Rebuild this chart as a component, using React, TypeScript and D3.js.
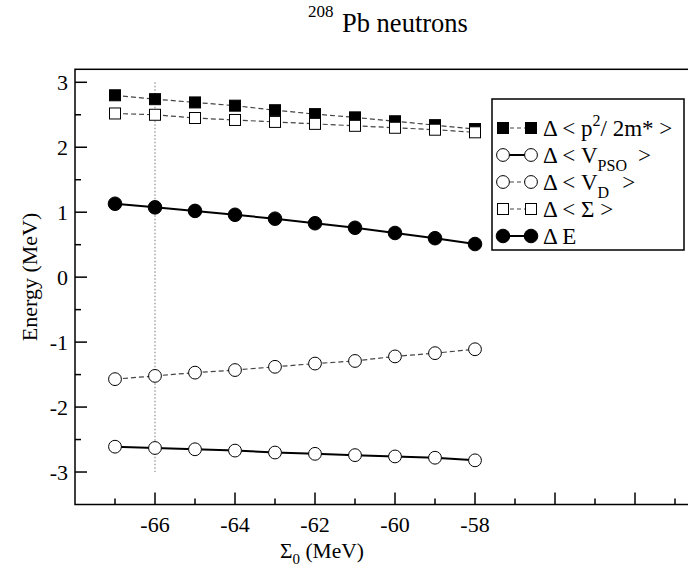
import React from "react";
import * as d3 from "d3";

const sigma0 = [-67, -66, -65, -64, -63, -62, -61, -60, -59, -58];
const kinetic = [2.8, 2.74, 2.69, 2.64, 2.57, 2.51, 2.46, 2.4, 2.34, 2.28];
const vpso = [-2.61, -2.63, -2.65, -2.67, -2.7, -2.72, -2.74, -2.76, -2.78, -2.82];
const vd = [-1.57, -1.52, -1.47, -1.43, -1.38, -1.33, -1.29, -1.22, -1.17, -1.11];
const sigmaAvg = [2.52, 2.5, 2.45, 2.42, 2.39, 2.36, 2.33, 2.3, 2.27, 2.23];
const deltaE = [1.13, 1.075, 1.02, 0.96, 0.9, 0.83, 0.76, 0.68, 0.6, 0.51];

const xTickLabels = [-66, -64, -62, -60, -58];
const yTickLabels = [-3, -2, -1, 0, 1, 2, 3];

type Series = { key: string; values: number[]; marker: "square" | "circle"; filled: boolean; dashed: boolean };

const seriesList: Series[] = [
  { key: "kin", values: kinetic, marker: "square", filled: true, dashed: true },
  { key: "vpso", values: vpso, marker: "circle", filled: false, dashed: false },
  { key: "vd", values: vd, marker: "circle", filled: false, dashed: true },
  { key: "sig", values: sigmaAvg, marker: "square", filled: false, dashed: true },
  { key: "e", values: deltaE, marker: "circle", filled: true, dashed: false },
];

const FONT = '"Liberation Serif", "Nimbus Roman", "Times New Roman", "DejaVu Serif", serif';

function Marker({ x, y, s }: { x: number; y: number; s: Series }) {
  if (s.marker === "square") {
    const h = 5.5;
    return (
      <rect x={x - h} y={y - h} width={2 * h} height={2 * h}
        fill={s.filled ? "#000" : "#fff"} stroke="#000" strokeWidth={1} />
    );
  }
  return <circle cx={x} cy={y} r={s.filled ? 6.8 : 6.4} fill={s.filled ? "#000" : "#fff"} stroke="#000" strokeWidth={1} />;
}

export default function App() {
  const W = 688, H = 571;
  const x = d3.scaleLinear().domain([-68, -52]).range([75, 715]);
  const y = d3.scaleLinear().domain([-3.5, 3.2]).range([504.5, 69.3]);

  const line = d3.line<[number, number]>().x((d) => x(d[0])).y((d) => y(d[1]));

  const xTicks = d3.range(-67, -52, 1);
  const yTicks = d3.range(-3.5, 3.01, 0.5);

  const LF = 23;
  const SF = 16;
  const legendRows = [
    { s: seriesList[0], label: (<><tspan>Δ &lt; p</tspan><tspan dy={-10} fontSize={SF}>2</tspan><tspan dy={10}>/ 2m* &gt;</tspan></>) },
    { s: seriesList[1], label: (<><tspan>Δ &lt; V</tspan><tspan dy={8} fontSize={SF}>PSO</tspan><tspan dy={-8} dx={11}>&gt;</tspan></>) },
    { s: seriesList[2], label: (<><tspan>Δ &lt; V</tspan><tspan dy={8} fontSize={SF}>D</tspan><tspan dy={-8} dx={13}>&gt;</tspan></>) },
    { s: seriesList[3], label: (<><tspan>Δ &lt; Σ &gt;</tspan></>) },
    { s: seriesList[4], label: (<><tspan>Δ E</tspan></>) },
  ];

  return (
    <svg width={W} height={H} style={{ position: "absolute", left: 0, top: 0, background: "#fff", fontFamily: FONT }}>
      <rect width={W} height={H} fill="#fff" />
      {/* title */}
      <text x={308} y={17} fontSize={17}>208</text>
      <text x={342} y={32} fontSize={26.5}>Pb neutrons</text>

      {/* frame */}
      <rect x={x(-68)} y={y(3.2)} width={x(-52) - x(-68)} height={y(-3.5) - y(3.2)} fill="none" stroke="#000" strokeWidth={1.5} />

      {/* x ticks */}
      {xTicks.map((t) => {
        const major = t % 2 === 0;
        return <line key={"xt" + t} x1={x(t)} x2={x(t)} y1={y(-3.5)} y2={y(-3.5) - (major ? 12 : 6)} stroke="#000" strokeWidth={1.5} />;
      })}
      {xTickLabels.map((t) => (
        <text key={"xl" + t} x={x(t)} y={532} fontSize={22} textAnchor="middle">{t}</text>
      ))}

      {/* y ticks */}
      {yTicks.map((t) => {
        const major = Math.abs(t - Math.round(t)) < 1e-6;
        if (t <= -3.5) return null;
        return <line key={"yt" + t} x1={x(-68)} x2={x(-68) + (major ? 12 : 6)} y1={y(t)} y2={y(t)} stroke="#000" strokeWidth={1.5} />;
      })}
      {yTickLabels.map((t) => (
        <text key={"yl" + t} x={68} y={y(t) + 7.5} fontSize={22} textAnchor="end">{t}</text>
      ))}

      {/* axis titles */}
      <text transform={`translate(37,${277}) rotate(-90)`} fontSize={22} textAnchor="middle">Energy (MeV)</text>
      <text x={280} y={558} fontSize={21.5}>
        <tspan>Σ</tspan><tspan dy={6} fontSize={15}>0</tspan><tspan dy={-6}> (MeV)</tspan>
      </text>

      {/* dotted reference line */}
      <line x1={x(-66)} x2={x(-66)} y1={y(3)} y2={y(-3)} stroke="#777" strokeWidth={1} strokeDasharray="1.5,2" />

      {/* series */}
      {seriesList.map((s) => {
        const pts = sigma0.map((v, i) => [v, s.values[i]] as [number, number]);
        return (
          <g key={s.key}>
            <path d={line(pts) || ""} fill="none" stroke={s.dashed ? "#444" : "#000"}
              strokeWidth={s.dashed ? 1.2 : 2} strokeDasharray={s.dashed ? "5,3" : undefined} />
            {pts.map((p, i) => <Marker key={i} x={x(p[0])} y={y(p[1])} s={s} />)}
          </g>
        );
      })}

      {/* legend */}
      <rect x={492} y={99} width={192} height={151} fill="#fff" stroke="#000" strokeWidth={1.5} />
      {legendRows.map((r, i) => {
        const cy = 128 + i * 27;
        return (
          <g key={"lg" + i}>
            <line x1={503} x2={531} y1={cy} y2={cy} stroke={r.s.dashed ? "#444" : "#000"} strokeWidth={r.s.dashed ? 1.2 : 2}
              strokeDasharray={r.s.dashed ? "4,3" : undefined} />
            <Marker x={503} y={cy} s={r.s} />
            <Marker x={531} y={cy} s={r.s} />
            <text x={543} y={cy + 7.5} fontSize={LF}>{r.label}</text>
          </g>
        );
      })}
    </svg>
  );
}
